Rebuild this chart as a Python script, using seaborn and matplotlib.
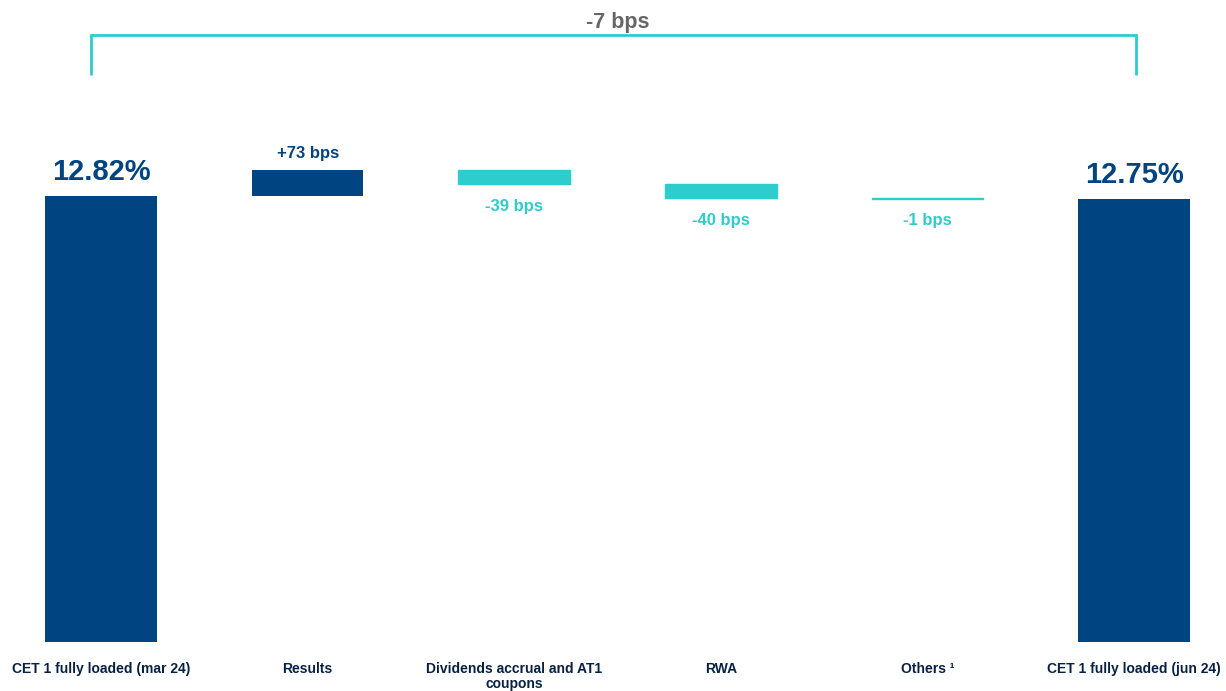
import matplotlib
matplotlib.use("Agg")
import matplotlib.pyplot as plt
import seaborn as sns
import numpy as np
import pandas as pd

categories = ["CET 1 fully loaded (mar 24)", "Results", "Dividends accrual and AT1\ncoupons",
              "RWA", "Others \u00b9", "CET 1 fully loaded (jun 24)"]
start_value = 12.82
changes_bps = [73, -39, -40, -1]
end_value = 12.75
total_change_label = "-7 bps"
value_labels = ["12.82%", "+73 bps", "-39 bps", "-40 bps", "-1 bps", "12.75%"]

NAVY = "#004481"
CYAN = "#2DCCCD"
TICK = "#072146"
GRAY = "#666666"

# waterfall geometry from data
bottoms, tops = [0.0], [start_value]
level = start_value
for c in changes_bps:
    new = level + c / 100.0
    bottoms.append(min(level, new))
    tops.append(max(level, new))
    level = new
bottoms.append(0.0)
tops.append(end_value)
heights = [t - b for t, b in zip(tops, bottoms)]
kinds = ["total"] + ["up" if c > 0 else "down" for c in changes_bps] + ["total"]

df = pd.DataFrame({"cat": categories, "height": heights, "bottom": bottoms, "top": tops, "kind": kinds})

sns.set_theme(style="white")
plt.rcParams["font.family"] = ["Liberation Sans", "DejaVu Sans"]

fig = plt.figure(figsize=(12.26, 6.91), dpi=100)
ax = fig.add_axes([0.0, 49 / 691, 1.0, 1 - 49 / 691])

sns.barplot(data=df, x="cat", y="height", bottom=df["bottom"].to_numpy(), color=NAVY,
            width=0.54, errorbar=None, saturation=1, ax=ax)

for p, k in zip(ax.patches, kinds):
    col = CYAN if k == "down" else NAVY
    p.set_facecolor(col)
    p.set_edgecolor(col)
    p.set_linewidth(1.0 if k == "down" else 0)

ax.set_xlim(-0.489, 5.445)
ax.set_ylim(0.33, 18.31)

for i, (k, lab) in enumerate(zip(kinds, value_labels)):
    if k == "total":
        ax.annotate(lab, (i, tops[i]), xytext=(0, 17), textcoords="offset points",
                    ha="center", va="center", fontsize=21, fontweight="bold", color=NAVY)
    elif k == "up":
        ax.annotate(lab, (i, tops[i]), xytext=(0, 12), textcoords="offset points",
                    ha="center", va="center", fontsize=12, fontweight="bold", color=NAVY)
    else:
        ax.annotate(lab, (i, bottoms[i]), xytext=(0, -16), textcoords="offset points",
                    ha="center", va="center", fontsize=12, fontweight="bold", color=CYAN)

# bracket
bx0, bx1 = -0.05, 5.01
ax.plot([bx0, bx0, bx1, bx1], [16.21, 17.33, 17.33, 16.21], color=CYAN, lw=2,
        clip_on=False, solid_joinstyle="miter", solid_capstyle="butt")
ax.text(2.5, 17.68, total_change_label, ha="center", va="center", fontsize=15.5,
        fontweight="bold", color=GRAY)

ax.set_xlabel("")
ax.set_ylabel("")
ax.set_yticks([])
ax.tick_params(axis="x", length=0, pad=14.5)
for t in ax.get_xticklabels():
    t.set_fontsize(10)
    t.set_fontweight("bold")
    t.set_color(TICK)
    t.set_linespacing(1.1)
sns.despine(ax=ax, left=True, bottom=True)

fig.savefig("out.png", dpi=100)
